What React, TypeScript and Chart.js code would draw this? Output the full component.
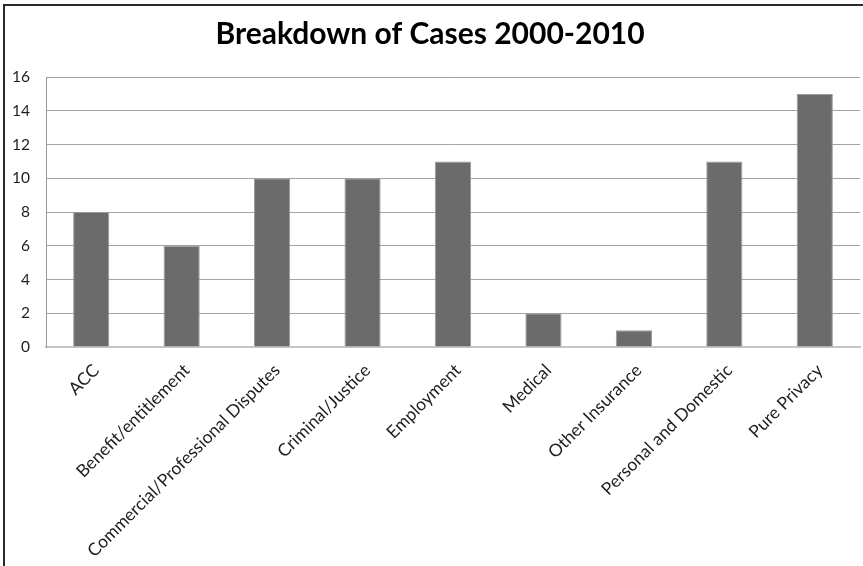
import React, { useEffect, useRef } from "react";
import { Chart, registerables } from "chart.js";

Chart.register(...registerables);

const categories = [
  "ACC",
  "Benefit/entitlement",
  "Commercial/Professional Disputes",
  "Criminal/Justice",
  "Employment",
  "Medical",
  "Other Insurance",
  "Personal and Domestic",
  "Pure Privacy",
];

const caseCounts = [8, 6, 10, 10, 11, 2, 1, 11, 15];

const titleText = "Breakdown of Cases 2000-2010";
const yMin = 0;
const yMax = 16;
const yStep = 2;

const W = 863;
const H = 566;

export default function App() {
  const canvasRef = useRef<HTMLCanvasElement | null>(null);

  useEffect(() => {
    const canvas = canvasRef.current;
    if (!canvas) return;
    const chart = new Chart(canvas, {
      type: "bar",
      data: {
        labels: categories,
        datasets: [
          {
            label: "Cases",
            data: caseCounts,
            backgroundColor: "#6b6b6b",
            borderColor: "#9a9a9a",
            borderWidth: 1,
            barPercentage: 0.4,
            categoryPercentage: 1,
          },
        ],
      },
      options: {
        responsive: false,
        animation: false,
        devicePixelRatio: 1,
        layout: { padding: { left: 0, right: 3, top: 0, bottom: 0 } },
        plugins: {
          legend: { display: false },
          tooltip: { enabled: false },
          title: {
            display: true,
            text: titleText,
            color: "#000000",
            font: { family: "Lato", size: 30, weight: "bold", lineHeight: 1.2 },
            padding: { top: 16, bottom: 25 },
          },
        },
        scales: {
          x: {
            grid: { display: false, drawTicks: false },
            border: { display: true, color: "#c6c6c6", width: 2 },
            ticks: {
              autoSkip: false,
              minRotation: 45,
              maxRotation: 45,
              padding: 13,
              labelOffset: 5,
              color: "#1e1e1e",
              font: { family: "Lato", size: 17.5 },
            },
            afterFit: (scale: any) => {
              scale.height = 219;
            },
          },
          y: {
            min: yMin,
            max: yMax,
            grid: { color: "#a3a3a3", lineWidth: 1, drawTicks: false },
            border: { display: true, color: "#9a9a9a", width: 1 },
            ticks: {
              stepSize: yStep,
              padding: 16,
              color: "#1e1e1e",
              font: { family: "Lato", size: 15.5 },
            },
            afterFit: (scale: any) => {
              scale.width = 46;
            },
          },
        },
      },
    });
    return () => chart.destroy();
  }, []);

  return (
    <div style={{ position: "fixed", left: 0, top: 0, width: W, height: H, background: "#ffffff", overflow: "hidden" }}>
      <canvas ref={canvasRef} width={W} height={H} style={{ display: "block" }} />
      <div
        style={{
          position: "absolute",
          left: 3,
          top: 4,
          width: W,
          height: H,
          borderLeft: "2px solid #2a2a2a",
          borderTop: "2px solid #2a2a2a",
          pointerEvents: "none",
        }}
      />
    </div>
  );
}
